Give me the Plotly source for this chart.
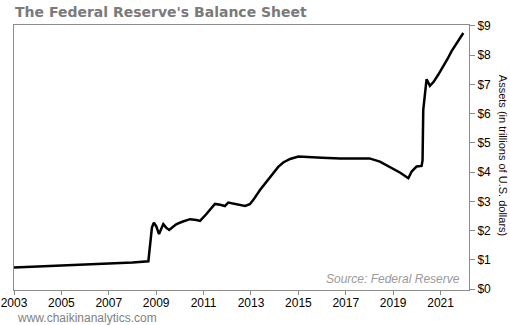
import plotly.graph_objects as go

# Data (decimal year, trillions of USD)
years = [2003.0, 2004.0, 2005.0, 2006.0, 2007.0, 2008.0, 2008.67, 2008.74, 2008.82, 2008.9,
         2009.0, 2009.12, 2009.22, 2009.3, 2009.42, 2009.55, 2009.7, 2009.86, 2010.1,
         2010.43, 2010.7, 2010.85, 2011.1, 2011.3, 2011.48, 2011.7, 2011.9, 2012.04,
         2012.3, 2012.5, 2012.75, 2012.95, 2013.1, 2013.38, 2013.65, 2013.94, 2014.15,
         2014.36, 2014.65, 2015.0, 2015.5, 2016.0, 2016.76, 2017.4, 2018.0, 2018.44,
         2018.9, 2019.3, 2019.64, 2019.72, 2019.78, 2019.9, 2019.99, 2020.2, 2020.24,
         2020.27, 2020.34, 2020.41, 2020.55, 2020.7, 2020.9, 2021.11, 2021.3, 2021.46,
         2021.7, 2021.96]
assets = [0.74, 0.77, 0.80, 0.84, 0.88, 0.91, 0.95, 1.50, 2.10, 2.27,
          2.15, 1.88, 2.05, 2.22, 2.10, 2.02, 2.12, 2.22, 2.30,
          2.39, 2.36, 2.33, 2.55, 2.75, 2.91, 2.88, 2.84, 2.96,
          2.92, 2.88, 2.84, 2.90, 3.05, 3.39, 3.68, 3.96, 4.18,
          4.33, 4.45, 4.53, 4.50, 4.49, 4.47, 4.47, 4.47, 4.36,
          4.15, 3.98, 3.79, 3.92, 4.02, 4.12, 4.19, 4.21, 4.40,
          6.13, 6.59, 7.18, 6.95, 7.08, 7.33, 7.61, 7.88, 8.13,
          8.45, 8.76]

x_ticks = [2003, 2005, 2007, 2009, 2011, 2013, 2015, 2017, 2019, 2021]
y_ticks = [0, 1, 2, 3, 4, 5, 6, 7, 8, 9]
y_labels = ["$0", "$1", "$2", "$3", "$4", "$5", "$6", "$7", "$8", "$9"]

fig = go.Figure()
fig.add_trace(go.Scatter(x=years, y=assets, mode="lines",
                         line=dict(color="black", width=2.5),
                         hoverinfo="skip", showlegend=False))

frame = "#8c8c8c"
fig.update_layout(
    width=510, height=325,
    margin=dict(l=14, r=41, t=25, b=35),
    paper_bgcolor="white", plot_bgcolor="white",
    font=dict(family="Liberation Sans, Arial, sans-serif", size=12, color="black"),
    xaxis=dict(range=[2003, 2022.2], tickvals=x_ticks, ticktext=[str(v) for v in x_ticks],
               automargin=False, ticklabelstandoff=-2,
               showgrid=False, zeroline=False, showline=True, mirror=True,
               linecolor=frame, linewidth=1, ticks="outside", ticklen=4,
               tickcolor=frame, tickfont=dict(size=12, color="black")),
    yaxis=dict(range=[-0.034, 9.034], side="right", tickvals=y_ticks, ticktext=y_labels,
               automargin=False,
               showgrid=False, zeroline=False, showline=True, mirror=True,
               linecolor=frame, linewidth=1, ticks="outside", ticklen=5,
               tickcolor=frame, tickfont=dict(size=12, color="black")),
    annotations=[
        dict(text="<b>The Federal Reserve's Balance Sheet</b>", xref="paper", yref="paper",
             x=-0.002, y=1.0, yshift=13, xanchor="left", yanchor="middle", showarrow=False,
             font=dict(family="DejaVu Sans, Verdana, sans-serif", size=14, color="#7a7a7a")),
        dict(text="Assets (in trillions of U.S. dollars)", xref="paper", yref="paper",
             x=1, xshift=34, y=0.51, xanchor="center", yanchor="middle", textangle=90,
             showarrow=False,
             font=dict(family="Liberation Sans, Arial, sans-serif", size=11, color="#1a0a0a")),
        dict(text="<i>Source: Federal Reserve</i>", xref="paper", yref="paper",
             x=0.985, y=0.04, xanchor="right", yanchor="middle", showarrow=False,
             font=dict(family="Liberation Sans, Arial, sans-serif", size=12, color="#9a9a9a")),
        dict(text="www.chaikinanalytics.com", xref="paper", yref="paper",
             x=0.0, xshift=1, y=0, yshift=-28, xanchor="left", yanchor="middle",
             showarrow=False,
             font=dict(family="Liberation Sans, Arial, sans-serif", size=12, color="#7f7f7f")),
    ],
)

fig.write_html("out.html")
